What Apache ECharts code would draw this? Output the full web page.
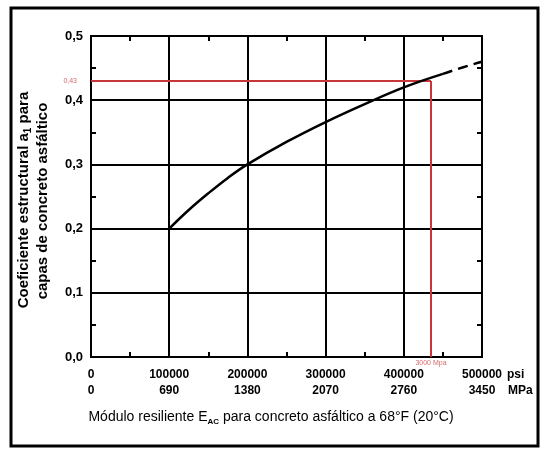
<!DOCTYPE html>
<html>
<head>
<meta charset="utf-8">
<script src="https://cdn.jsdelivr.net/npm/echarts@6/dist/echarts.min.js"></script>
<style>
  html, body { margin: 0; padding: 0; background: #fff; }
  #chart { width: 543px; height: 450px; }
</style>
</head>
<body>
<div id="chart"></div>
<script>
// Axis tick labels (psi row and MPa row share the same tick positions)
const psiLabels = ['0', '100000', '200000', '300000', '400000', '500000'];
const mpaLabels = ['0', '690', '1380', '2070', '2760', '3450'];
const coefLabels = ['0,0', '0,1', '0,2', '0,3', '0,4', '0,5'];

// Structural coefficient a1 vs resilient modulus (psi)
const modulusSolid = [100000, 125000, 150000, 175000, 200000, 250000, 300000, 350000, 400000, 450000];
const coefSolid = [0.200, 0.229, 0.255, 0.279, 0.300, 0.335, 0.366, 0.394, 0.420, 0.441];
const modulusDashed = [450000, 475000, 500000];
const coefDashed = [0.441, 0.451, 0.460];

// Reading for the design modulus
const refMpa = 3000;
const refCoef = 0.43;
const psiPerMpa = 100000 / 690;
const refPsi = refMpa * psiPerMpa;

const FONT = '"Liberation Sans", Arial, sans-serif';
const INK = '#000';
const RED = '#c9363a';

const chart = echarts.init(document.getElementById('chart'), null, { renderer: 'canvas' });

const pairs = (xs, ys) => xs.map((x, i) => [x, ys[i]]);

const plotRect = { left: 91, top: 36, width: 391, height: 321, containLabel: false };

// Axes carrying only the short inward ticks at every half division (empty labels)
function tickAxisX(position, grid) {
  return {
    gridIndex: grid, type: 'value', position: position, min: 0, max: 500000, interval: 50000,
    axisLine: { show: true, onZero: false, lineStyle: { color: INK, width: 2 } },
    axisTick: { show: true, inside: true, length: 5, lineStyle: { color: INK, width: 2 } },
    axisLabel: { show: true, formatter: function () { return ''; } },
    splitLine: { show: false }
  };
}
function tickAxisY(position, grid) {
  return {
    gridIndex: grid, type: 'value', position: position, min: 0, max: 0.5, interval: 0.05,
    axisLine: { show: true, onZero: false, lineStyle: { color: INK, width: 2 } },
    axisTick: { show: true, inside: true, length: 5, lineStyle: { color: INK, width: 2 } },
    axisLabel: { show: true, formatter: function () { return ''; } },
    splitLine: { show: false }
  };
}

chart.setOption({
  animation: false,
  backgroundColor: '#fff',
  grid: [Object.assign({}, plotRect), Object.assign({}, plotRect), Object.assign({}, plotRect)],
  xAxis: [
    {
      gridIndex: 0, type: 'value', position: 'bottom', min: 0, max: 500000, interval: 100000,
      axisLine: { show: true, onZero: false, lineStyle: { color: INK, width: 2 } },
      axisTick: { show: false },
      splitLine: { show: true, lineStyle: { color: INK, width: 2 } },
      axisLabel: {
        show: true, margin: 10, color: INK, fontFamily: FONT, fontSize: 12, fontWeight: 'bold',
        lineHeight: 16,
        showMinLabel: true, showMaxLabel: true,
        formatter: function (v) {
          const i = Math.round(v / 100000);
          return psiLabels[i] + '\n' + mpaLabels[i];
        }
      }
    },
    tickAxisX('top', 1),
    tickAxisX('bottom', 2)
  ],
  yAxis: [
    {
      gridIndex: 0, type: 'value', position: 'left', min: 0, max: 0.5, interval: 0.1,
      axisLine: { show: true, onZero: false, lineStyle: { color: INK, width: 2 } },
      axisTick: { show: false },
      splitLine: { show: true, lineStyle: { color: INK, width: 2 } },
      axisLabel: {
        show: true, margin: 8, color: INK, fontFamily: FONT, fontSize: 13, fontWeight: 'bold',
        formatter: function (v) { return coefLabels[Math.round(v * 10)]; }
      }
    },
    tickAxisY('right', 1),
    tickAxisY('left', 2)
  ],
  series: [
    {
      type: 'line', xAxisIndex: 0, yAxisIndex: 0,
      data: pairs(modulusSolid, coefSolid),
      smooth: 0.4, showSymbol: false, symbol: 'none',
      lineStyle: { color: INK, width: 2.5 },
      z: 5,
      markLine: {
        silent: true, symbol: 'none', animation: false,
        lineStyle: { color: RED, width: 2, type: 'solid' },
        data: [
          [
            { coord: [0, refCoef], label: { show: true, position: 'start', formatter: '0,43', color: '#d46a6a', fontSize: 7, fontFamily: FONT, distance: 14 } },
            { coord: [refPsi, refCoef] }
          ],
          [
            { coord: [refPsi, refCoef] },
            { coord: [refPsi, 0], label: { show: true, position: 'end', formatter: refMpa + ' Mpa', color: '#d46a6a', fontSize: 7, fontFamily: FONT, distance: 3 } }
          ]
        ]
      }
    },
    {
      type: 'line', xAxisIndex: 0, yAxisIndex: 0,
      data: pairs(modulusDashed, coefDashed),
      smooth: true, showSymbol: false, symbol: 'none',
      lineStyle: { color: INK, width: 2.5, type: [10, 6] },
      z: 5
    },
    // empty series binding the tick-only axes
    { type: 'line', xAxisIndex: 1, yAxisIndex: 1, data: [], showSymbol: false },
    { type: 'line', xAxisIndex: 2, yAxisIndex: 2, data: [], showSymbol: false }
  ],
  graphic: [
    {
      type: 'rect', silent: true,
      shape: { x: 11, y: 8, width: 527, height: 438 },
      style: { fill: 'none', stroke: '#000', lineWidth: 3 }
    },
    {
      type: 'text', silent: true, x: 507, y: 369,
      style: { text: 'psi', fill: INK, font: 'bold 12px ' + FONT }
    },
    {
      type: 'text', silent: true, x: 508, y: 385,
      style: { text: 'MPa', fill: INK, font: 'bold 12px ' + FONT }
    },
    {
      type: 'text', silent: true, x: 271, y: 417,
      style: {
        text: '{t|Módulo resiliente E}{s|AC}{t| para concreto asfáltico a 68°F (20°C)}',
        align: 'center', verticalAlign: 'middle',
        rich: {
          t: { fontFamily: FONT, fontSize: 14, fill: INK, color: INK },
          s: { fontFamily: FONT, fontSize: 8, fontWeight: 'bold', fill: INK, color: INK, padding: [9, 0, 0, 0] }
        }
      }
    },
    {
      type: 'text', silent: true, x: 24, y: 200, rotation: Math.PI / 2,
      style: {
        text: '{t|Coeficiente estructural a}{s|1}{t| para}',
        align: 'center', verticalAlign: 'middle',
        rich: {
          t: { fontFamily: FONT, fontSize: 15, fontWeight: 'bold', fill: INK, color: INK },
          s: { fontFamily: FONT, fontSize: 10, fontWeight: 'bold', fill: INK, color: INK, padding: [8, 0, 0, 0] }
        }
      }
    },
    {
      type: 'text', silent: true, x: 43, y: 201, rotation: Math.PI / 2,
      style: {
        text: 'capas de concreto asfáltico',
        align: 'center', verticalAlign: 'middle',
        fontFamily: FONT, fontSize: 15, fontWeight: 'bold', fill: INK
      }
    }
  ]
});
</script>
</body>
</html>
